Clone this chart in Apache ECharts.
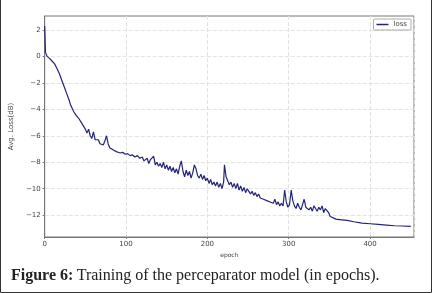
<!DOCTYPE html>
<html><head><meta charset="utf-8">
<script src="https://cdn.jsdelivr.net/npm/echarts@6/dist/echarts.min.js"></script>
<style>html,body{margin:0;padding:0;background:#fff}#c{width:432px;height:293px}</style>
</head><body><div id="c"></div>
<script>
const epochs = [0,1,3,6,9,12,15,18,21,24,27,30,32,34,36,38,40,42,44,46,48,50,52,54,56,58,60,62,64,66,68,70,72,74,76,78,80,82,85,88,90,93,96,99,102,105,108,111,114,117,120,122,124,126,128,130,132,134,136,138,140,142,144,146,148,150,152,154,156,158,160,162,164,166,168,170,172,174,176,178,180,182,184,186,188,190,192,194,196,198,200,202,204,206,208,210,212,214,216,218,220,221,223,225,227,229,231,233,235,237,239,241,243,245,247,249,251,253,255,257,259,261,263,265,267,269,271,273,275,277,279,281,283,285,287,289,291,293,295,297,299,301,303,305,307,309,311,313,315,317,319,321,323,325,327,329,331,333,335,337,339,341,343,345,347,349,351,353,358,365,372,380,390,400,410,420,430,440,450];
const loss = [2.3,0.3,0.0,-0.15,-0.35,-0.55,-0.9,-1.3,-1.8,-2.3,-2.8,-3.3,-3.7,-3.8,-4.2,-4.4,-4.5,-4.7,-4.85,-5.1,-5.0,-5.5,-5.8,-5.5,-6.0,-6.2,-5.7,-6.3,-6.4,-6.3,-6.6,-6.5,-6.7,-6.4,-6.0,-6.6,-6.9,-7.0,-7.1,-7.2,-7.15,-7.3,-7.25,-7.4,-7.35,-7.5,-7.45,-7.6,-7.5,-7.7,-7.6,-7.9,-8.0,-7.7,-8.1,-7.8,-7.9,-7.55,-8.2,-8.0,-8.3,-8.1,-8.4,-8.0,-8.5,-8.2,-8.6,-8.3,-8.7,-8.4,-8.8,-8.5,-8.9,-8.3,-7.9,-8.7,-9.1,-8.6,-9.0,-8.7,-9.2,-8.8,-8.2,-8.5,-9.0,-9.2,-8.9,-9.3,-9.0,-9.4,-9.2,-9.6,-9.3,-9.7,-9.5,-9.8,-9.5,-9.9,-9.6,-10.0,-9.5,-8.2,-9.1,-9.4,-9.7,-9.5,-9.9,-9.6,-10.0,-9.6,-10.1,-9.8,-10.2,-9.9,-10.3,-10.0,-10.2,-10.4,-10.2,-10.5,-10.3,-10.6,-10.4,-10.7,-10.6,-10.8,-10.7,-10.9,-10.8,-11.0,-10.9,-11.1,-10.8,-11.2,-11.0,-11.3,-11.1,-11.3,-10.1,-11.0,-11.4,-11.2,-10.1,-10.9,-11.3,-11.5,-11.1,-11.4,-11.6,-11.2,-10.8,-11.4,-11.3,-11.6,-11.4,-11.7,-11.3,-11.5,-11.7,-11.4,-11.6,-11.3,-11.8,-11.5,-11.4,-11.8,-12.1,-12.2,-12.3,-12.35,-12.4,-12.5,-12.6,-12.65,-12.7,-12.75,-12.8,-12.82,-12.85];
const yTicks = [-12,-10,-8,-6,-4,-2,0,2];
const seriesName = 'loss';
const xName = 'epoch';
const yName = 'Avg. Loss(dB)';

const chart = echarts.init(document.getElementById('c'), null, {renderer:'canvas'});
const fmt = v => String(v).replace('-', '\u2212');
chart.setOption({
  animation:false,
  backgroundColor:'#fff',
  grid:{left:37, top:16, right:18, bottom:56, show:true, borderColor:'#777', borderWidth:1},
  legend:{right:21, top:19, data:[{name:seriesName, icon:'rect'}], itemWidth:12, itemHeight:1.5, itemGap:4,
    padding:[2,4,2,3], borderColor:'#aaa', borderWidth:1, borderRadius:1, backgroundColor:'#fff',
    textStyle:{fontSize:7, color:'#444', fontFamily:'DejaVu Sans'}},
  xAxis:{type:'value', min:0, max:454, interval:100, name:xName, nameLocation:'middle', nameGap:15,
    nameTextStyle:{fontSize:6, color:'#444', fontFamily:'DejaVu Sans'},
    axisLine:{onZero:false, lineStyle:{color:'#777'}}, axisTick:{show:true, length:2, lineStyle:{color:'#777'}},
    axisLabel:{fontSize:7, color:'#444', margin:4, fontFamily:'DejaVu Sans', showMaxLabel:false},
    splitLine:{show:true, lineStyle:{color:'#e2e2e2', type:'dashed', width:1}}},
  yAxis:{type:'value', min:-13.65, max:3.05, name:yName, nameLocation:'middle', nameGap:28,
    nameTextStyle:{fontSize:7, color:'#444', fontFamily:'DejaVu Sans'},
    axisLine:{show:true, onZero:false, lineStyle:{color:'#777'}}, axisTick:{show:true, length:2, customValues:yTicks, lineStyle:{color:'#777'}},
    axisLabel:{fontSize:7, color:'#444', margin:4, customValues:yTicks, formatter:fmt, fontFamily:'DejaVu Sans'},
    splitLine:{show:true, lineStyle:{color:'#e2e2e2', type:'dashed', width:1}}},
  series:[{name:seriesName, type:'line', symbol:'none', data:epochs.map((e,i)=>[e,loss[i]]),
    lineStyle:{color:'#23237a', width:1.2}, itemStyle:{color:'#23237a'}}],
  graphic:[
    {type:'text', left:11, top:268, style:{text:'{b|Figure 6:} {r|Training of the perceparator model (in epochs).}',
      rich:{b:{fontFamily:'Liberation Serif', fontWeight:'bold', fontSize:16, fill:'#222'},
            r:{fontFamily:'Liberation Serif', fontSize:16, fill:'#222'}}}},
    {type:'polyline', shape:{points:[[0.5,0],[0.5,292.5],[431.5,292.5],[431.5,0]]}, style:{stroke:'#333', fill:null, lineWidth:1}}
  ]
});
</script></body></html>
